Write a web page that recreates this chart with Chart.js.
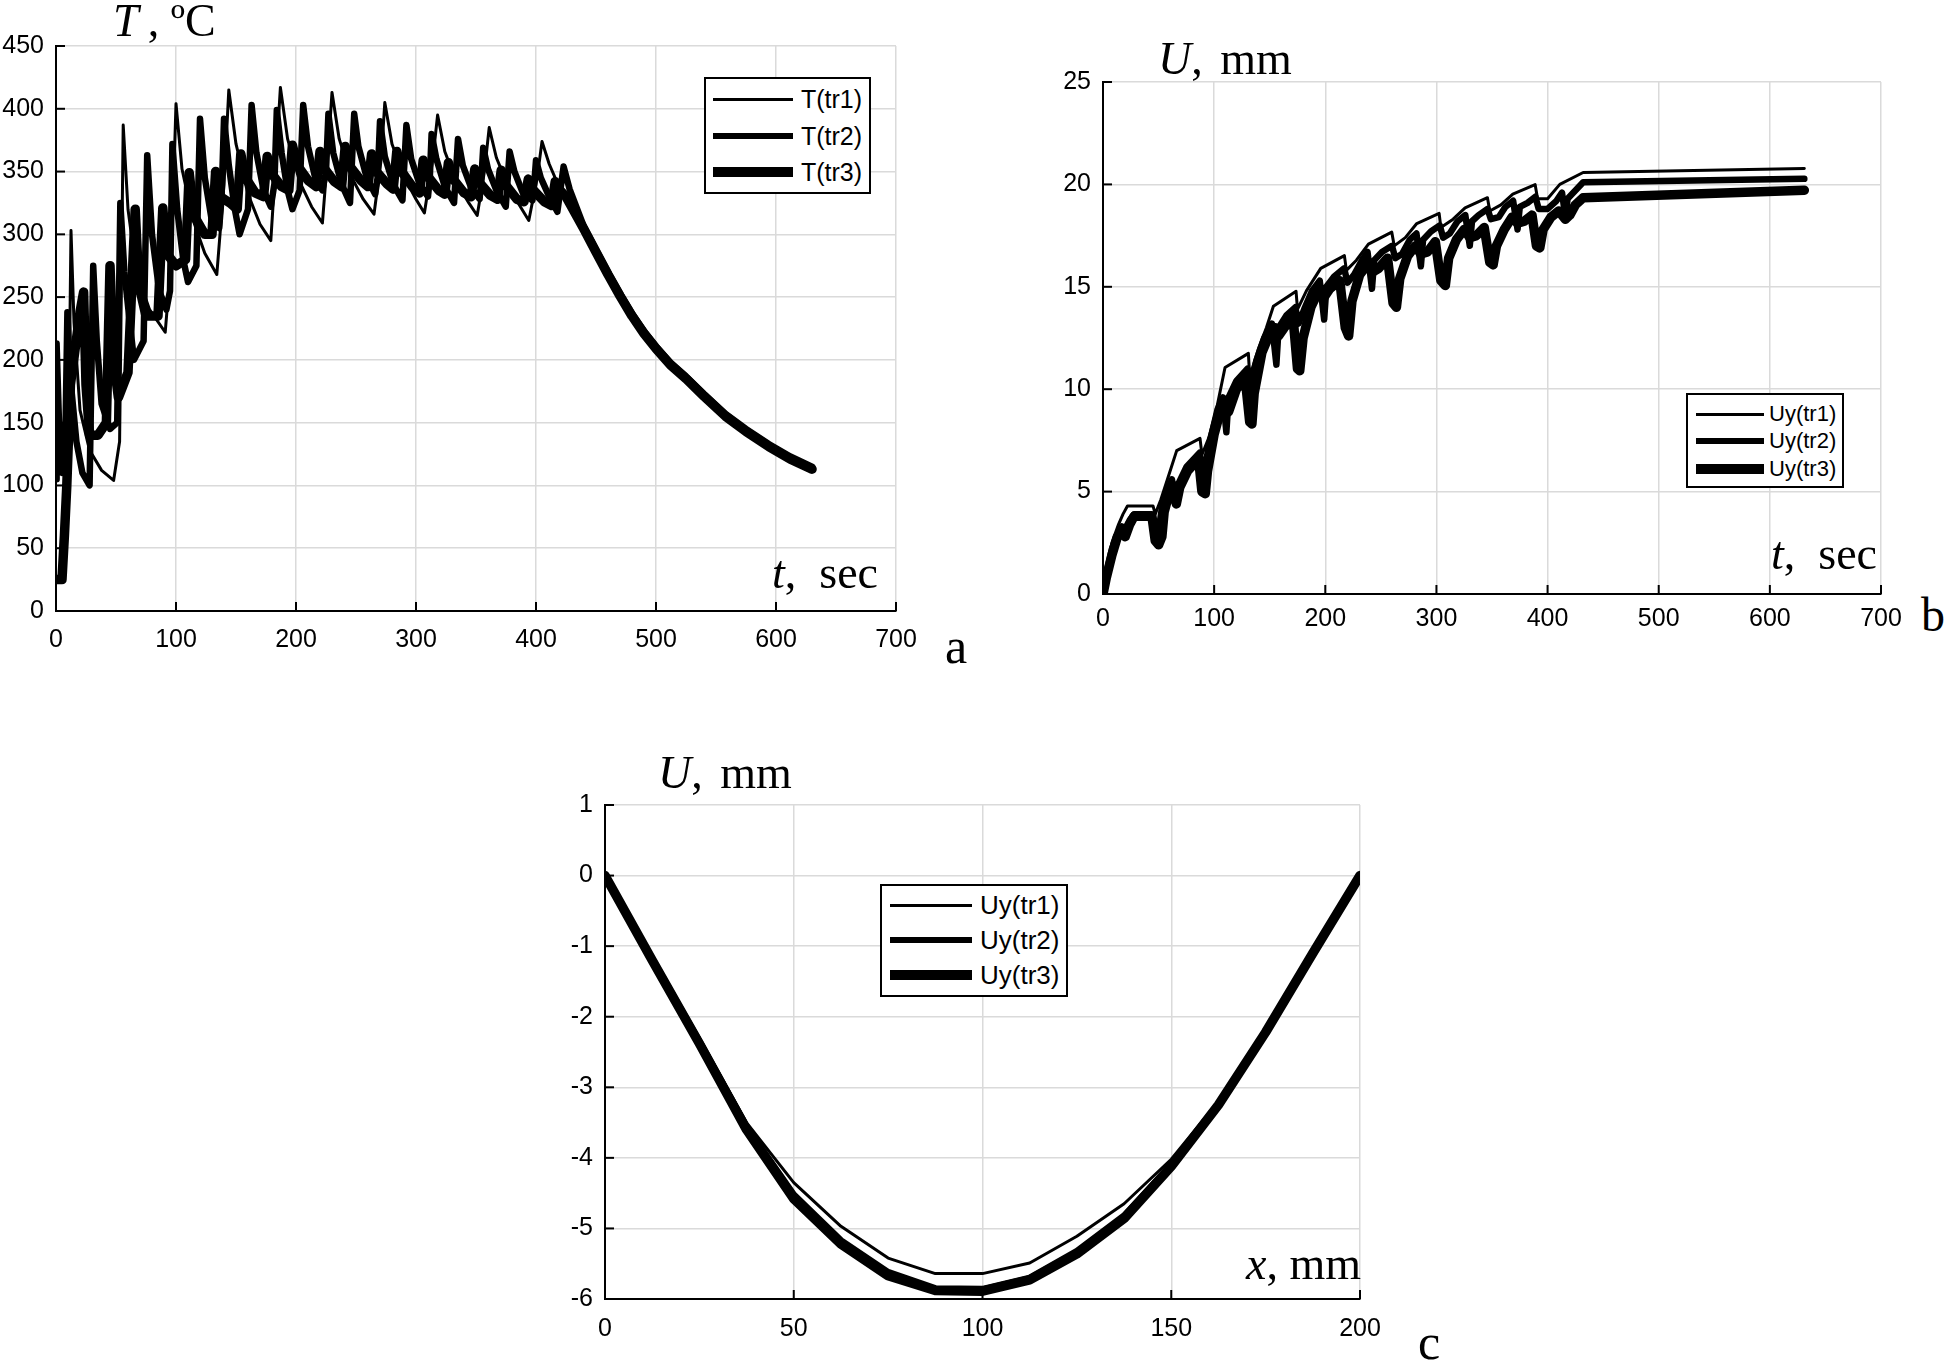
<!DOCTYPE html>
<html>
<head>
<meta charset="utf-8">
<script src="https://cdn.jsdelivr.net/npm/chart.js@4.4.1/dist/chart.umd.min.js"></script>
<style>
    body { margin: 0; width: 1946px; height: 1362px; background: #fff; position: relative; overflow: hidden; }
    canvas { position: absolute; }
    .lbl { position: absolute; font-family: "Liberation Serif", "DejaVu Serif", serif; font-size: 46px; line-height: 46px; white-space: nowrap; color: #000; }
    .legend { position: absolute; border: 2px solid #000; background: #fff; box-sizing: border-box; }
    .legend .ln { position: absolute; background: #000; }
    .legend .tx { position: absolute; font-family: "Liberation Sans", Arial, sans-serif; white-space: nowrap; transform: translateY(-50%); }
</style>
</head>
<body>
<canvas id="chartA" width="940" height="680" style="left:0px; top:0px;"></canvas>
<canvas id="chartB" width="880" height="620" style="left:1040px; top:40px;"></canvas>
<canvas id="chartC" width="860" height="590" style="left:540px; top:770px;"></canvas>

<div class="lbl" style="left:113px; top:-2px;"><i>T</i>&#8201;, ºC</div>
<div class="lbl" style="left:772px; top:550px;"><i>t</i>,&nbsp; sec</div>
<div class="lbl" style="left:945px; top:621px; font-size:50px; line-height:50px;">a</div>

<div class="lbl" style="left:1158px; top:36px; word-spacing:6px;"><i>U</i>, mm</div>
<div class="lbl" style="left:1771px; top:531px;"><i>t</i>,&nbsp; sec</div>
<div class="lbl" style="left:1921px; top:591px; font-size:48px; line-height:48px;">b</div>

<div class="lbl" style="left:658px; top:750px; word-spacing:6px;"><i>U</i>, mm</div>
<div class="lbl" style="left:1246px; top:1241px;"><i>x</i>, mm</div>
<div class="lbl" style="left:1418px; top:1317px; font-size:50px; line-height:50px;">c</div>

<script>
// ---- a: temperature vs time, [t (sec), T (ºC)]
const tempTr1 = [[0,25],[7,25],[11,180],[12.5,303],[15,230],[20,160],[28,128],[38,112],[48,104],[53,135],[56,387],[60,320],[67,270],[78,240],[91,222],[96,280],[100,404],[105,352],[114,312],[124,285],[134,268],[140,340],[144,415],[150,372],[160,332],[170,308],[179,295],[184,370],[187,417],[193,376],[203,342],[213,322],[222,309],[227,370],[230,413],[236,376],[246,346],[256,328],[265,316],[271,360],[274,405],[280,372],[290,346],[300,328],[307,317],[314,360],[318,395],[324,366],[334,341],[344,325],[351,315],[357,350],[361,385],[367,361],[377,338],[387,322],[394,311],[401,345],[405,374],[411,356],[420,336],[427,326],[440,302],[450,284],[460,266],[470,249],[480,234],[490,220],[500,208],[512,195],[525,184],[540,170],[558,154],[575,142],[594,130],[612,120],[630,112]];
const tempTr2 = [[0,105],[0.5,213],[2.5,150],[5,110],[8,150],[9.5,238],[12,185],[17,135],[22,110],[28,100],[31,275],[34,215],[38,165],[45,145],[51,150],[53.6,325],[57,270],[62,225],[65,200],[73,215],[76,363],[80,300],[86,255],[92,240],[95,255],[97,372],[101,320],[106,280],[110,262],[117,275],[120,392],[124,345],[130,310],[136,305],[138,330],[140,392],[144,355],[149,320],[153,300],[160,320],[163,403],[167,365],[173,335],[179,322],[182,340],[184,399],[188,365],[193,335],[197,320],[203,335],[206,403],[210,370],[216,345],[222,335],[225,350],[227,396],[231,365],[238,340],[245,325],[248.5,396],[252,370],[259,345],[266,332],[268,345],[270,390],[274,362],[281,340],[288.7,327],[292,387],[296,360],[303,340],[310,330],[311.5,345],[313,380],[317,360],[324,338],[331.7,325],[335,376],[339,355],[346,337],[353,328],[354.5,345],[356,369],[360,352],[367,335],[374.8,322],[378,366],[382,350],[389,333],[397,327],[398.5,340],[400,359],[404,345],[411,330],[417.8,318],[423,354],[428,336],[440,306],[450,288],[460,270],[470,253],[480,237],[490,223],[500,211],[512,198],[525,187],[540,173],[558,157],[575,145],[594,133],[612,123],[630,115]];
const tempTr3 = [[0,25],[5,25],[7,60],[9,100],[12,180],[20,238],[23,254],[25,180],[28,140],[35,140],[42,150],[45,275],[48,200],[52,170],[60,190],[66,320],[69,260],[75,235],[85,235],[89,321],[92,285],[100,275],[108,280],[111,349],[115,315],[124,300],[130,300],[133,350],[137,330],[145,325],[151,320],[154,364],[158,345],[166,333],[173,330],[176,362],[180,348],[188,338],[194,335],[197,371],[201,355],[210,343],[217,338],[220,366],[224,352],[232,342],[238,338],[241,370],[245,354],[254,343],[260,338],[263,364],[267,350],[276,340],[281,336],[284,366],[288,350],[297,338],[303,333],[306,359],[310,346],[319,335],[324,332],[327,357],[331,344],[340,333],[346,330],[349,352],[353,341],[362,331],[368,328],[371,351],[375,339],[384,328],[390,326],[393.6,344],[398,335],[407,326],[413,323],[416,342],[420,335],[425,330],[440,304],[450,286],[460,268],[470,251],[480,235],[490,221],[500,209],[512,196],[525,185],[540,171],[558,155],[575,143],[594,131],[612,121],[630,113]];
const legendA = ['T(tr1)', 'T(tr2)', 'T(tr3)'];

// ---- b: displacement vs time, [t (sec), U (mm)]
const dispTr1 = [[0,0],[3,1.2],[8,2.5],[14,3.4],[18,3.9],[22,4.3],[45,4.3],[47,3.9],[52,4.6],[58,5.6],[66.3,7.0],[87.3,7.6],[89,6.8],[95,7.6],[102,9.0],[109.8,11.06],[130.8,11.75],[132,10.6],[140,12.0],[147,13.0],[153.3,14.05],[173.7,14.78],[175,13.9],[183,14.8],[195.9,15.9],[217.2,16.52],[219,15.8],[228,16.3],[238.8,17.08],[259.8,17.67],[262,17.0],[272,17.4],[282.3,18.09],[302.4,18.59],[304,17.9],[315,18.3],[325.8,18.85],[345.9,19.35],[348,18.7],[358,19.0],[368.7,19.52],[388.8,19.99],[391,19.3],[400,19.3],[411,20.0],[432,20.58],[631,20.78]];
const dispTr2 = [[0,0],[3,1.0],[8,2.2],[14,3.0],[17,3.3],[20,3.2],[24,3.6],[28,3.9],[44,3.9],[47,3.3],[50,3.1],[53,4.2],[58,5.0],[62,5.6],[65,4.6],[68,5.4],[75,6.2],[87,6.9],[89,6.0],[92,6.3],[96,7.4],[103,9.0],[108,9.6],[111,7.9],[113,9.6],[120,10.4],[130,11.0],[133,10.2],[138,11.4],[145,12.5],[152,13.2],[156,11.2],[158,13.0],[165,13.6],[173,14.0],[176,13.2],[181,13.9],[188,14.8],[195,15.3],[199,13.4],[201,15.0],[208,15.5],[217,15.9],[220,15.2],[226,15.6],[233,16.3],[238,16.7],[242,14.9],[244,16.3],[251,16.7],[260,17.0],[263,16.4],[269,16.6],[276,17.3],[282,17.6],[286,16.0],[288,17.3],[295,17.7],[303,18.0],[306,17.4],[312,17.6],[319,18.2],[326,18.5],[330,17.0],[332,18.2],[338,18.5],[346,18.8],[349,18.3],[356,18.4],[362,18.9],[369,19.2],[373,17.8],[375,18.9],[382,19.1],[389,19.4],[392,18.8],[400,18.8],[408,19.2],[413,19.6],[416,18.4],[418,19.3],[432,20.1],[631,20.27]];
const dispTr3 = [[0,0],[3,0.8],[8,1.9],[13,2.8],[17,3.0],[20,2.8],[24,3.4],[28,3.8],[44,3.8],[47,2.6],[50,2.4],[53,2.8],[55,4.0],[60,5.0],[63,5.3],[66,4.4],[69,5.2],[76,6.0],[86,6.6],[89,5.0],[92,4.9],[94,6.0],[100,7.8],[106,9.0],[110,9.3],[113,8.9],[120,10.0],[128,10.5],[132,8.4],[134,8.3],[136,9.8],[143,11.8],[150,12.7],[155,13.0],[158,12.6],[163,13.0],[171,13.5],[175,11.0],[177,10.9],[180,12.5],[187,14.0],[194,14.8],[199,14.5],[204,14.9],[213,15.3],[218,13.0],[221,12.6],[224,14.3],[231,15.6],[238,16.1],[242,15.7],[248,15.9],[256,16.4],[261,14.2],[264,14.0],[267,15.4],[274,16.5],[281,17.0],[286,16.6],[292,16.7],[299,17.2],[304,15.3],[308,15.06],[311,16.4],[318,17.3],[325,17.8],[330,17.4],[336,17.5],[343,17.9],[348,16.2],[351,16.07],[354,17.0],[361,17.8],[368,18.4],[373,18.1],[379,18.2],[386,18.5],[390,17.0],[393,16.9],[396,17.8],[403,18.4],[410,18.7],[416,18.3],[420,18.5],[425,19.0],[432,19.35],[631,19.72]];
const legendB = ['Uy(tr1)', 'Uy(tr2)', 'Uy(tr3)'];

// ---- c: residual deflection along the plate
const posX = [0, 12.5, 25, 37.5, 50, 62.5, 75, 87.5, 100, 112.5, 125, 137.5, 150, 162.5, 175, 187.5, 200];
const defTr1 = [0, -1.15, -2.3, -3.5, -4.35, -4.97, -5.42, -5.64, -5.64, -5.49, -5.11, -4.65, -4.02, -3.2, -2.2, -1.08, 0];
const defTr2 = [0, -1.18, -2.35, -3.56, -4.52, -5.17, -5.62, -5.85, -5.86, -5.7, -5.32, -4.82, -4.1, -3.24, -2.21, -1.09, 0];
const defTr3 = [0, -1.2, -2.38, -3.6, -4.58, -5.22, -5.67, -5.88, -5.89, -5.73, -5.36, -4.86, -4.12, -3.25, -2.22, -1.1, 0];
const legendC = ['Uy(tr1)', 'Uy(tr2)', 'Uy(tr3)'];

const lineWidths = [3, 6.5, 9.5];
const tickFont = { family: '"Liberation Sans", Arial, sans-serif', size: 25 };

// MATLAB-like tick marks pointing into the plot
const innerTicks = {
    id: 'innerTicks',
    afterDraw(chart) {
        const { ctx, chartArea, scales } = chart;
        ctx.save();
        ctx.strokeStyle = '#000';
        ctx.lineWidth = 2;
        scales.x.ticks.forEach(t => {
            const px = scales.x.getPixelForValue(t.value);
            ctx.beginPath();
            ctx.moveTo(px, chartArea.bottom);
            ctx.lineTo(px, chartArea.bottom - 9);
            ctx.stroke();
        });
        scales.y.ticks.forEach(t => {
            const py = scales.y.getPixelForValue(t.value);
            ctx.beginPath();
            ctx.moveTo(chartArea.left, py);
            ctx.lineTo(chartArea.left + 9, py);
            ctx.stroke();
        });
        ctx.restore();
    }
};

function toPoints(pairs) {
    return pairs.map(p => ({ x: p[0], y: p[1] }));
}

function makeDatasets(names, series) {
    return series.map((data, i) => ({
        label: names[i],
        data: data,
        borderColor: '#000',
        borderWidth: lineWidths[i],
        pointRadius: 0,
        tension: 0,
        fill: false,
        borderJoinStyle: 'round',
        borderCapStyle: 'round'
    }));
}

function makeChart(id, datasets, o) {
    return new Chart(document.getElementById(id), {
        type: 'line',
        data: { datasets: datasets },
        plugins: [innerTicks],
        options: {
            responsive: false,
            animation: false,
            devicePixelRatio: 1,
            layout: { padding: { top: o.padTop, right: o.padRight, left: 0, bottom: 0 } },
            plugins: { legend: { display: false }, tooltip: { enabled: false } },
            scales: {
                x: {
                    type: 'linear', min: o.xmin, max: o.xmax,
                    ticks: { stepSize: o.xstep, font: tickFont, color: '#000', padding: o.xpad, maxRotation: 0, autoSkip: false },
                    grid: { color: '#dadada', lineWidth: 1.5, drawTicks: false },
                    border: { color: '#000', width: 2 },
                    afterFit: s => { s.height = o.xh; }
                },
                y: {
                    type: 'linear', min: o.ymin, max: o.ymax,
                    ticks: { stepSize: o.ystep, font: tickFont, color: '#000', padding: 12, autoSkip: false },
                    grid: { color: '#dadada', lineWidth: 1.5, drawTicks: false },
                    border: { color: '#000', width: 2 },
                    afterFit: s => { s.width = o.yw; }
                }
            }
        }
    });
}

makeChart('chartA',
    makeDatasets(legendA, [toPoints(tempTr1), toPoints(tempTr2), toPoints(tempTr3)]),
    { xmin: 0, xmax: 700, xstep: 100, ymin: 0, ymax: 450, ystep: 50, yw: 56, xh: 69, padTop: 46, padRight: 44, xpad: 14 });

makeChart('chartB',
    makeDatasets(legendB, [toPoints(dispTr1), toPoints(dispTr2), toPoints(dispTr3)]),
    { xmin: 0, xmax: 700, xstep: 100, ymin: 0, ymax: 25, ystep: 5, yw: 63, xh: 66, padTop: 42, padRight: 39, xpad: 10 });

const zipX = vals => vals.map((v, i) => ({ x: posX[i], y: v }));
makeChart('chartC',
    makeDatasets(legendC, [zipX(defTr1), zipX(defTr2), zipX(defTr3)]),
    { xmin: 0, xmax: 200, xstep: 50, ymin: -6, ymax: 1, ystep: 1, yw: 65, xh: 61, padTop: 35, padRight: 40, xpad: 15 });

// legends drawn as boxes inside the plots
function addLegend(names, box) {
    const el = document.createElement('div');
    el.className = 'legend';
    el.style.left = box.left + 'px';
    el.style.top = box.top + 'px';
    el.style.width = box.width + 'px';
    el.style.height = box.height + 'px';
    names.forEach((name, i) => {
        const ln = document.createElement('div');
        ln.className = 'ln';
        ln.style.left = box.lineX0 + 'px';
        ln.style.width = (box.lineX1 - box.lineX0) + 'px';
        ln.style.height = lineWidths[i] + 'px';
        ln.style.top = (box.rows[i] - lineWidths[i] / 2) + 'px';
        el.appendChild(ln);
        const tx = document.createElement('div');
        tx.className = 'tx';
        tx.textContent = name;
        tx.style.left = box.textX + 'px';
        tx.style.top = box.rows[i] + 'px';
        tx.style.fontSize = box.font + 'px';
        tx.style.lineHeight = box.font + 'px';
        el.appendChild(tx);
    });
    document.body.appendChild(el);
}

addLegend(legendA, { left: 704, top: 77, width: 167, height: 117, rows: [20, 57, 93], lineX0: 7, lineX1: 87, textX: 95, font: 25 });
addLegend(legendB, { left: 1686, top: 393, width: 158, height: 95, rows: [19, 46, 74], lineX0: 8, lineX1: 76, textX: 81, font: 22 });
addLegend(legendC, { left: 880, top: 884, width: 188, height: 113, rows: [19, 54, 89], lineX0: 8, lineX1: 90, textX: 98, font: 26 });
</script>
</body>
</html>
